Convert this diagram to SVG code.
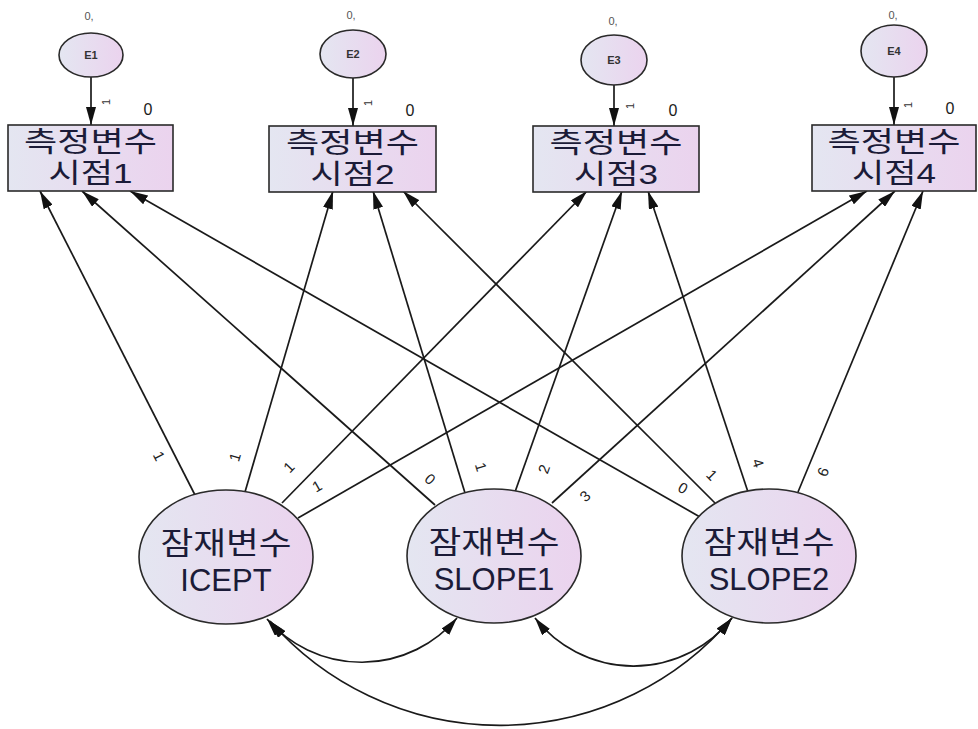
<svg xmlns="http://www.w3.org/2000/svg" width="978" height="729" viewBox="0 0 978 729">
  <defs>
    <linearGradient id="fillGrad" x1="0" y1="0" x2="1" y2="0">
      <stop offset="0" stop-color="#e4e6f1"/>
      <stop offset="1" stop-color="#ebd3ee"/>
    </linearGradient>
    <marker id="arrow" viewBox="0 0 18 10" refX="18" refY="5" markerWidth="18" markerHeight="10" markerUnits="userSpaceOnUse" orient="auto-start-reverse">
      <path d="M0,0 L18,5 L0,10 z" fill="#111"/>
    </marker>
    <style>
      .node { fill: url(#fillGrad); stroke: #2a2a2a; stroke-width: 1.6; }
      .edge { fill: none; stroke: #1a1a1a; stroke-width: 1.7; }
      .kr { font-family: "Liberation Sans", "Noto Sans CJK KR", sans-serif; font-size: 28px; fill: #1b1b38; text-anchor: middle; }
      .lat { font-family: "Liberation Sans", "Noto Sans CJK KR", sans-serif; font-size: 31px; fill: #1b1b38; text-anchor: middle; }
      .err { font-family: "Liberation Sans", sans-serif; font-size: 11px; font-weight: bold; fill: #333; text-anchor: middle; }
      .mv { font-family: "Liberation Sans", sans-serif; font-size: 11px; fill: #555; text-anchor: middle; }
      .icp { font-family: "Liberation Sans", sans-serif; font-size: 16px; fill: #1b1b1b; text-anchor: middle; }
      .w { font-family: "Liberation Sans", sans-serif; font-size: 15px; fill: #222; text-anchor: middle; }
      .w1 { font-family: "Liberation Sans", sans-serif; font-size: 11px; fill: #333; text-anchor: middle; }
    </style>
  </defs>

  <rect width="978" height="729" fill="#ffffff"/>

  <!-- connectors -->
  <g id="connectors">
    <!-- error terms to observed variables -->
    <line class="edge" x1="91" y1="77" x2="91" y2="125" marker-end="url(#arrow)"/>
    <line class="edge" x1="353" y1="78" x2="353" y2="126" marker-end="url(#arrow)"/>
    <line class="edge" x1="614" y1="85" x2="614" y2="126" marker-end="url(#arrow)"/>
    <line class="edge" x1="894" y1="77" x2="894" y2="125" marker-end="url(#arrow)"/>

    <!-- ICEPT loadings -->
    <line class="edge" x1="195" y1="495" x2="40" y2="191" marker-end="url(#arrow)"/>
    <line class="edge" x1="245" y1="492" x2="333" y2="191" marker-end="url(#arrow)"/>
    <line class="edge" x1="282" y1="503" x2="587" y2="191" marker-end="url(#arrow)"/>
    <line class="edge" x1="298" y1="518" x2="867" y2="191" marker-end="url(#arrow)"/>

    <!-- SLOPE1 loadings -->
    <line class="edge" x1="435" y1="505" x2="82" y2="191" marker-end="url(#arrow)"/>
    <line class="edge" x1="465" y1="493" x2="373" y2="191" marker-end="url(#arrow)"/>
    <line class="edge" x1="515" y1="492" x2="622" y2="191" marker-end="url(#arrow)"/>
    <line class="edge" x1="552" y1="503" x2="895" y2="191" marker-end="url(#arrow)"/>

    <!-- SLOPE2 loadings -->
    <line class="edge" x1="700" y1="517" x2="130" y2="191" marker-end="url(#arrow)"/>
    <line class="edge" x1="715" y1="503" x2="403" y2="191" marker-end="url(#arrow)"/>
    <line class="edge" x1="748" y1="492" x2="648" y2="191" marker-end="url(#arrow)"/>
    <line class="edge" x1="798" y1="492" x2="923" y2="191" marker-end="url(#arrow)"/>

    <!-- covariances -->
    <path class="edge" d="M267,619 A125,125 0 0 0 457,618" marker-start="url(#arrow)" marker-end="url(#arrow)"/>
    <path class="edge" d="M535,618 A125,125 0 0 0 732,618" marker-start="url(#arrow)" marker-end="url(#arrow)"/>
    <path class="edge" d="M270,621 A305,305 0 0 0 732,618" marker-start="url(#arrow)" marker-end="url(#arrow)"/>

    <!-- fixed path weights -->
    <text class="w1" transform="translate(106,102) rotate(-90)" dy=".35em">1</text>
    <text class="w1" transform="translate(368,103) rotate(-90)" dy=".35em">1</text>
    <text class="w1" transform="translate(630,106) rotate(-90)" dy=".35em">1</text>
    <text class="w1" transform="translate(908,105) rotate(-90)" dy=".35em">1</text>

    <text class="w" transform="translate(159,456) rotate(63)" dy=".35em">1</text>
    <text class="w" transform="translate(235,457) rotate(-73.7)" dy=".35em">1</text>
    <text class="w" transform="translate(289,467) rotate(-45.7)" dy=".35em">1</text>
    <text class="w" transform="translate(317,486) rotate(-29.9)" dy=".35em">1</text>

    <text class="w" transform="translate(430,479) rotate(41.7)" dy=".35em">0</text>
    <text class="w" transform="translate(481,467) rotate(73.1)" dy=".35em">1</text>
    <text class="w" transform="translate(544,469) rotate(-70.4)" dy=".35em">2</text>
    <text class="w" transform="translate(585,496) rotate(-42.3)" dy=".35em">3</text>

    <text class="w" transform="translate(683,488) rotate(29.8)" dy=".35em">0</text>
    <text class="w" transform="translate(712,475) rotate(45)" dy=".35em">1</text>
    <text class="w" transform="translate(758,463) rotate(71.6)" dy=".35em">4</text>
    <text class="w" transform="translate(823,472) rotate(-67.4)" dy=".35em">6</text>
  </g>

  <!-- error terms -->
  <g id="E1">
    <ellipse class="node" cx="91" cy="55" rx="32" ry="22"/>
    <text class="err" x="91" y="59">E1</text>
    <text class="mv" x="89" y="20">0,</text>
  </g>
  <g id="E2">
    <ellipse class="node" cx="353" cy="54" rx="33" ry="24"/>
    <text class="err" x="353" y="58">E2</text>
    <text class="mv" x="351" y="19">0,</text>
  </g>
  <g id="E3">
    <ellipse class="node" cx="614" cy="60" rx="33" ry="25"/>
    <text class="err" x="614" y="64">E3</text>
    <text class="mv" x="613" y="25">0,</text>
  </g>
  <g id="E4">
    <ellipse class="node" cx="894" cy="51" rx="33" ry="26"/>
    <text class="err" x="894" y="55">E4</text>
    <text class="mv" x="893" y="19">0,</text>
  </g>

  <!-- observed variables -->
  <g id="obs1">
    <rect class="node" x="8" y="125" width="165" height="66"/>
    <text class="kr" x="90.5" y="152" textLength="133" lengthAdjust="spacingAndGlyphs">측정변수</text>
    <text class="kr" x="90.5" y="183" textLength="84" lengthAdjust="spacingAndGlyphs">시점1</text>
    <text class="icp" x="148" y="115">0</text>
  </g>
  <g id="obs2">
    <rect class="node" x="269" y="126" width="167" height="66"/>
    <text class="kr" x="352.5" y="153" textLength="133" lengthAdjust="spacingAndGlyphs">측정변수</text>
    <text class="kr" x="352.5" y="184" textLength="84" lengthAdjust="spacingAndGlyphs">시점2</text>
    <text class="icp" x="410" y="116">0</text>
  </g>
  <g id="obs3">
    <rect class="node" x="533" y="126" width="166" height="66"/>
    <text class="kr" x="616" y="153" textLength="133" lengthAdjust="spacingAndGlyphs">측정변수</text>
    <text class="kr" x="616" y="184" textLength="84" lengthAdjust="spacingAndGlyphs">시점3</text>
    <text class="icp" x="673" y="116">0</text>
  </g>
  <g id="obs4">
    <rect class="node" x="812" y="125" width="164" height="66"/>
    <text class="kr" x="894" y="152" textLength="133" lengthAdjust="spacingAndGlyphs">측정변수</text>
    <text class="kr" x="894" y="183" textLength="84" lengthAdjust="spacingAndGlyphs">시점4</text>
    <text class="icp" x="950" y="114">0</text>
  </g>

  <!-- latent growth factors -->
  <g id="ICEPT">
    <ellipse class="node" cx="226" cy="557" rx="87" ry="67"/>
    <text class="lat" x="226" y="554" textLength="131" lengthAdjust="spacingAndGlyphs">잠재변수</text>
    <text class="lat" x="226" y="591">ICEPT</text>
  </g>
  <g id="SLOPE1">
    <ellipse class="node" cx="494" cy="556" rx="87" ry="67"/>
    <text class="lat" x="494" y="553" textLength="131" lengthAdjust="spacingAndGlyphs">잠재변수</text>
    <text class="lat" x="494" y="590">SLOPE1</text>
  </g>
  <g id="SLOPE2">
    <ellipse class="node" cx="769" cy="556" rx="87" ry="67"/>
    <text class="lat" x="769" y="553" textLength="131" lengthAdjust="spacingAndGlyphs">잠재변수</text>
    <text class="lat" x="769" y="590">SLOPE2</text>
  </g>
</svg>
